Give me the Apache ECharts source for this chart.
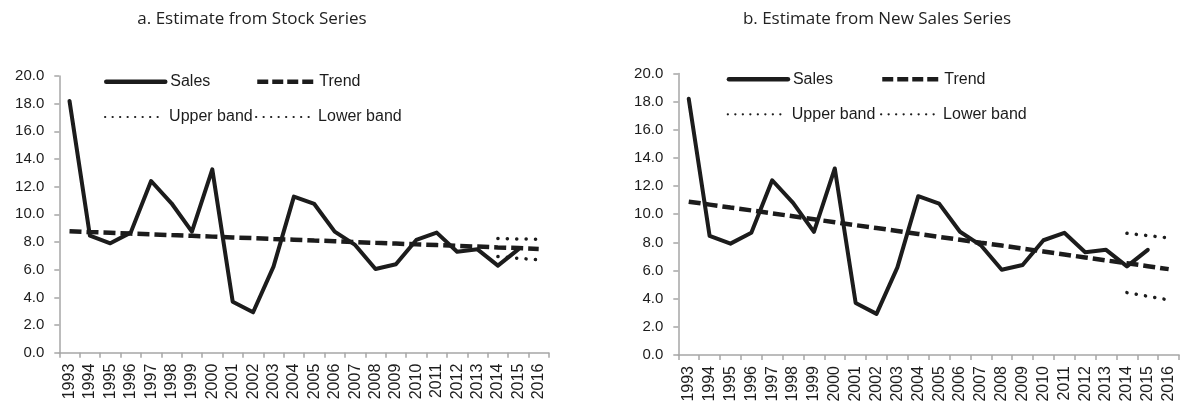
<!DOCTYPE html>
<html>
<head>
<meta charset="utf-8">
<script src="https://cdn.jsdelivr.net/npm/echarts@6/dist/echarts.min.js"></script>
<style>
html,body{margin:0;padding:0;background:#fff;}
#c{width:1182px;height:409px;}
</style>
</head>
<body>
<div id="c"></div>
<script>
var years = ['1993','1994','1995','1996','1997','1998','1999','2000','2001','2002','2003','2004','2005','2006','2007','2008','2009','2010','2011','2012','2013','2014','2015','2016'];
var yTicks = [0, 2, 4, 6, 8, 10, 12, 14, 16, 18, 20];
var titleA = 'a. Estimate from Stock Series';
var titleB = 'b. Estimate from New Sales Series';

var salesA = [18.2, 8.46, 7.91, 8.68, 12.41, 10.8, 8.75, 13.25, 3.69, 2.92, 6.22, 11.28, 10.75, 8.75, 7.79, 6.05, 6.39, 8.15, 8.68, 7.3, 7.47, 6.29, 7.47, null];
var trendA = [8.78, 8.72, 8.67, 8.61, 8.56, 8.50, 8.45, 8.39, 8.33, 8.28, 8.22, 8.17, 8.11, 8.06, 8.00, 7.94, 7.89, 7.83, 7.78, 7.72, 7.67, 7.61, 7.56, 7.50];
var upperA = [null, null, null, null, null, null, null, null, null, null, null, null, null, null, null, null, null, null, null, null, null, 8.25, 8.22, 8.2];
var lowerA = [null, null, null, null, null, null, null, null, null, null, null, null, null, null, null, null, null, null, null, null, null, 6.95, 6.82, 6.72];

var salesB = [18.2, 8.46, 7.91, 8.68, 12.41, 10.8, 8.75, 13.25, 3.69, 2.92, 6.22, 11.28, 10.75, 8.75, 7.79, 6.05, 6.39, 8.15, 8.68, 7.3, 7.47, 6.29, 7.47, null];
var trendB = [10.89, 10.68, 10.47, 10.27, 10.06, 9.85, 9.64, 9.43, 9.22, 9.02, 8.81, 8.60, 8.39, 8.18, 7.97, 7.77, 7.56, 7.35, 7.14, 6.93, 6.72, 6.52, 6.31, 6.10];
var upperB = [null, null, null, null, null, null, null, null, null, null, null, null, null, null, null, null, null, null, null, null, null, 8.64, 8.48, 8.32];
var lowerB = [null, null, null, null, null, null, null, null, null, null, null, null, null, null, null, null, null, null, null, null, null, 4.43, 4.17, 3.91];

var INK = '#1c1c1c';
var AXIS = '#a6a6a6';
var LABEL_FONT = '"Liberation Sans", Arial, sans-serif';

function xAxis(gi) {
  return {
    type: 'category', gridIndex: gi, data: years, boundaryGap: true,
    axisLine: {lineStyle: {color: AXIS, width: 1.5}},
    axisTick: {show: true, length: 5, lineStyle: {color: AXIS, width: 1.5}},
    axisLabel: {rotate: 90, interval: 0, margin: 11, color: INK, fontSize: 16, fontFamily: LABEL_FONT}
  };
}
function yAxis(gi) {
  return {
    type: 'value', gridIndex: gi, min: yTicks[0], max: yTicks[yTicks.length - 1], interval: 2,
    splitLine: {show: false},
    axisLine: {show: true, lineStyle: {color: AXIS, width: 1.5}},
    axisTick: {show: true, length: 5, lineStyle: {color: AXIS, width: 1.5}},
    axisLabel: {margin: 15, color: INK, fontSize: 15, fontFamily: LABEL_FONT,
      formatter: function (v) { return v.toFixed(1); }}
  };
}
var solid = {color: INK, width: 4, type: 'solid', cap: 'round', join: 'round'};
var dashed = {color: INK, width: 4.5, type: [12, 5], cap: 'butt'};
var dotted = {color: INK, width: 3.5, type: [0.1, 9.3], cap: 'round'};

function line(name, data, gi, style) {
  return {
    name: name, type: 'line', xAxisIndex: gi, yAxisIndex: gi, data: data,
    symbol: 'none', showSymbol: false, connectNulls: false, silent: true,
    lineStyle: style, itemStyle: {color: INK}, z: name === 'Sales' ? 3 : 2
  };
}
function legend(name, left, top, w, ls) {
  return {
    data: [name], left: left, top: top, itemWidth: w, itemHeight: 14, padding: 0,
    selectedMode: false,
    textStyle: {color: INK, fontSize: 16, fontFamily: LABEL_FONT},
    itemStyle: {opacity: 0, borderWidth: 0},
    lineStyle: ls
  };
}

var chart = echarts.init(document.getElementById('c'));
chart.setOption({
  animation: false,
  backgroundColor: '#fff',
  title: [
    {text: titleA, left: 247, top: 6, textAlign: 'center',
     textStyle: {fontFamily: '"Open Sans", sans-serif', fontWeight: 'normal', fontSize: 17, color: '#222'}},
    {text: titleB, left: 872, top: 6, textAlign: 'center',
     textStyle: {fontFamily: '"Open Sans", sans-serif', fontWeight: 'normal', fontSize: 17, color: '#222'}}
  ],
  grid: [
    {left: 59.3, top: 76, width: 489.6, height: 276.7, containLabel: false},
    {left: 678.3, top: 73.4, width: 500.8, height: 281.6, containLabel: false}
  ],
  xAxis: [xAxis(0), xAxis(1)],
  yAxis: [yAxis(0), yAxis(1)],
  legend: [
    legend('Sales', 104, 73.7, 59, {width: 4.5, type: 'solid', color: INK}),
    legend('Trend', 255, 73.7, 57, {width: 4.5, type: [11, 4], color: INK}),
    legend('Upper band', 104, 109, 59, {width: 2.2, type: [0.1, 7.4], cap: 'round', color: INK}),
    legend('Lower band', 255, 109, 57, {width: 2.2, type: [0.1, 7.4], cap: 'round', color: INK}),
    legend('Sales', 726.7, 71.3, 59, {width: 4.5, type: 'solid', color: INK}),
    legend('Trend', 880, 71.3, 57, {width: 4.5, type: [11, 4], color: INK}),
    legend('Upper band', 726.7, 106.3, 59, {width: 2.2, type: [0.1, 7.4], cap: 'round', color: INK}),
    legend('Lower band', 880, 106.3, 57, {width: 2.2, type: [0.1, 7.4], cap: 'round', color: INK})
  ],
  series: [
    line('Sales', salesA, 0, solid),
    line('Trend', trendA, 0, dashed),
    line('Upper band', upperA, 0, dotted),
    line('Lower band', lowerA, 0, dotted),
    line('Sales', salesB, 1, solid),
    line('Trend', trendB, 1, dashed),
    line('Upper band', upperB, 1, dotted),
    line('Lower band', lowerB, 1, dotted)
  ]
});
</script>
</body>
</html>
